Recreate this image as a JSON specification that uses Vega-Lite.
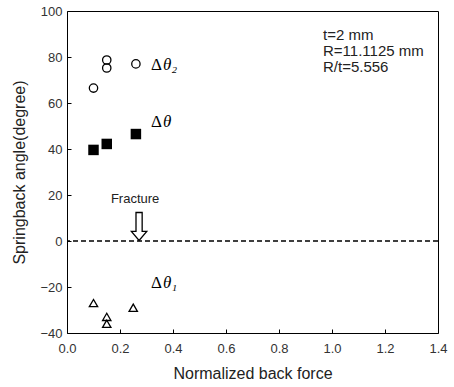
{
  "$schema": "https://vega.github.io/schema/vega-lite/v6.json",
  "width": 371,
  "height": 322,
  "autosize": {"type": "none"},
  "padding": {"left": 67, "top": 11, "right": 16, "bottom": 54},
  "background": "white",
  "config": {
    "view": {"stroke": "black", "strokeWidth": 1},
    "axis": {"domain": false, "grid": false, "labelFlush": false, "tickColor": "black", "tickSize": -4, "labelColor": "#333", "labelFont": "Liberation Sans", "labelFontSize": 13, "titleFont": "Liberation Sans", "titleFontSize": 16, "titleFontWeight": "normal", "titleColor": "#222"}
  },
  "datasets": {
    "pts": [
      {"force": 0.1, "angle": 66.5, "series": "d2"},
      {"force": 0.15, "angle": 78.7, "series": "d2"},
      {"force": 0.15, "angle": 75.2, "series": "d2"},
      {"force": 0.26, "angle": 77.0, "series": "d2"},
      {"force": 0.1, "angle": 39.6, "series": "d"},
      {"force": 0.15, "angle": 42.2, "series": "d"},
      {"force": 0.26, "angle": 46.5, "series": "d"},
      {"force": 0.1, "angle": -27.0, "series": "d1"},
      {"force": 0.15, "angle": -33.0, "series": "d1"},
      {"force": 0.15, "angle": -36.0, "series": "d1"},
      {"force": 0.25, "angle": -29.0, "series": "d1"}
    ],
    "greek": [
      {"x": 0.317, "y": 76.5, "d": "Δ", "t": "θ₂"},
      {"x": 0.317, "y": 51.7, "d": "Δ", "t": "θ"},
      {"x": 0.317, "y": -18.3, "d": "Δ", "t": "θ₁"}
    ]
  },
  "layer": [
    {
      "data": {"values": [{"v": 0}]},
      "mark": {"type": "rule", "strokeDash": [5, 3], "color": "black", "strokeWidth": 1.3},
      "encoding": {"y": {"field": "v", "type": "quantitative"}}
    },
    {
      "data": {"name": "pts"},
      "transform": [{"filter": "datum.series == 'd2'"}],
      "mark": {"type": "point", "shape": "circle", "filled": false, "color": "black", "size": 70, "strokeWidth": 1.3, "opacity": 1},
      "encoding": {
        "x": {"field": "force", "type": "quantitative", "scale": {"domain": [0, 1.4], "nice": false}, "axis": {"values": [0, 0.2, 0.4, 0.6, 0.8, 1.0, 1.2, 1.4], "format": ".1f", "title": "Normalized back force", "labelPadding": 13, "titlePadding": 10}},
        "y": {"field": "angle", "type": "quantitative", "scale": {"domain": [-40, 100], "nice": false}, "axis": {"values": [-40, -20, 0, 20, 40, 60, 80, 100], "title": "Springback angle(degree)", "labelPadding": 9, "titlePadding": 12}}
      }
    },
    {
      "data": {"name": "pts"},
      "transform": [{"filter": "datum.series == 'd'"}],
      "mark": {"type": "point", "shape": "square", "filled": true, "color": "black", "size": 110, "opacity": 1},
      "encoding": {
        "x": {"field": "force", "type": "quantitative"},
        "y": {"field": "angle", "type": "quantitative"}
      }
    },
    {
      "data": {"name": "pts"},
      "transform": [{"filter": "datum.series == 'd1'"}],
      "mark": {"type": "point", "shape": "triangle-up", "filled": false, "color": "black", "size": 70, "strokeWidth": 1.3, "opacity": 1},
      "encoding": {
        "x": {"field": "force", "type": "quantitative"},
        "y": {"field": "angle", "type": "quantitative"}
      }
    },
    {
      "data": {"values": [{"x": 0.272, "y": 6.3}]},
      "mark": {"type": "point", "shape": "M-0.22,-1L0.22,-1L0.22,0.35L0.55,0.35L0,1L-0.55,0.35L-0.22,0.35Z", "filled": true, "fill": "white", "stroke": "black", "strokeWidth": 1.3, "size": 784, "opacity": 1},
      "encoding": {
        "x": {"field": "x", "type": "quantitative"},
        "y": {"field": "y", "type": "quantitative"}
      }
    },
    {
      "data": {"name": "greek"},
      "mark": {"type": "text", "align": "left", "baseline": "middle", "font": "Liberation Serif", "fontSize": 17, "color": "black"},
      "encoding": {
        "x": {"field": "x", "type": "quantitative"},
        "y": {"field": "y", "type": "quantitative"},
        "text": {"field": "d"}
      }
    },
    {
      "data": {"name": "greek"},
      "mark": {"type": "text", "align": "left", "baseline": "middle", "dx": 12, "font": "Liberation Serif", "fontStyle": "italic", "fontSize": 17, "color": "black"},
      "encoding": {
        "x": {"field": "x", "type": "quantitative"},
        "y": {"field": "y", "type": "quantitative"},
        "text": {"field": "t"}
      }
    },
    {
      "data": {"values": [{"x": 0.257, "y": 18.3, "t": "Fracture"}]},
      "mark": {"type": "text", "align": "center", "baseline": "middle", "font": "Liberation Sans", "fontSize": 13, "color": "#222"},
      "encoding": {
        "x": {"field": "x", "type": "quantitative"},
        "y": {"field": "y", "type": "quantitative"},
        "text": {"field": "t"}
      }
    },
    {
      "data": {"values": [
        {"x": 0.966, "y": 89.6, "t": "t=2 mm"},
        {"x": 0.966, "y": 82.6, "t": "R=11.1125 mm"},
        {"x": 0.966, "y": 75.7, "t": "R/t=5.556"}
      ]},
      "mark": {"type": "text", "align": "left", "baseline": "middle", "font": "Liberation Sans", "fontSize": 15, "color": "#222"},
      "encoding": {
        "x": {"field": "x", "type": "quantitative"},
        "y": {"field": "y", "type": "quantitative"},
        "text": {"field": "t"}
      }
    }
  ]
}
